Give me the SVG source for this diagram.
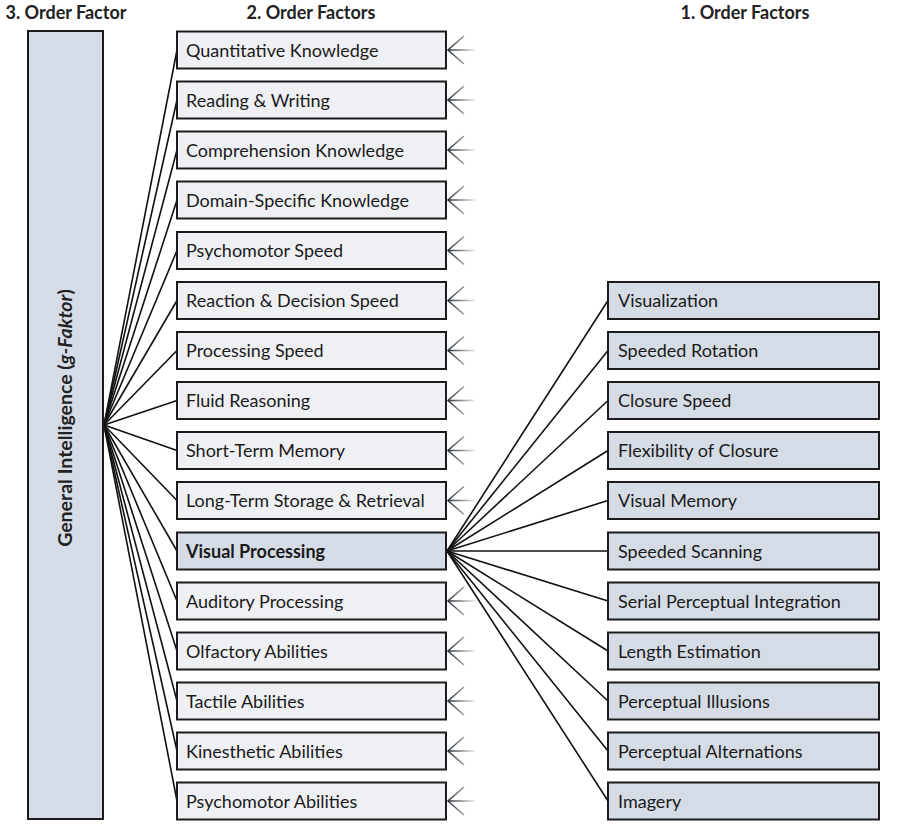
<svg xmlns="http://www.w3.org/2000/svg" xmlns:xlink="http://www.w3.org/1999/xlink" width="907" height="827" viewBox="0 0 907 827">
<style>
.hdr{font-family:"Lato","Liberation Sans",sans-serif;font-weight:bold;font-size:18px;fill:#222;}
.lbl{font-family:"Lato","Liberation Sans",sans-serif;font-size:18px;fill:#1a1a1a;}
.b2{fill:#eff0f4;stroke:#1c1c1c;stroke-width:2;}
.b1{fill:#d6dce5;stroke:#1c1c1c;stroke-width:2;}
.con line{stroke:#111;stroke-width:1.6;}
.arr line,.arr polyline{stroke:url(#fade);stroke-width:1.6;fill:none;}
</style>
<defs>
<linearGradient id="fade" gradientUnits="userSpaceOnUse" x1="0" y1="0" x2="28" y2="0">
<stop offset="0" stop-color="#2a2f38"/>
<stop offset="1" stop-color="#2a2f38" stop-opacity="0.1"/>
</linearGradient>
<g id="arrow" class="arr">
<line x1="1" y1="0" x2="28" y2="0"/>
<polyline points="17,-14 1,0 17,14"/>
</g>
</defs>
<rect width="907" height="827" fill="#fff"/>
<text class="hdr" x="66" y="19" text-anchor="middle">3. Order Factor</text>
<text class="hdr" x="311" y="19" text-anchor="middle">2. Order Factors</text>
<text class="hdr" x="745" y="19" text-anchor="middle">1. Order Factors</text>

<g id="connectors" class="con">
<line x1="104" y1="425" x2="177" y2="50"/>
<line x1="104" y1="425" x2="177" y2="100"/>
<line x1="104" y1="425" x2="177" y2="150"/>
<line x1="104" y1="425" x2="177" y2="200"/>
<line x1="104" y1="425" x2="177" y2="250.5"/>
<line x1="104" y1="425" x2="177" y2="300.5"/>
<line x1="104" y1="425" x2="177" y2="350.5"/>
<line x1="104" y1="425" x2="177" y2="400.5"/>
<line x1="104" y1="425" x2="177" y2="450.5"/>
<line x1="104" y1="425" x2="177" y2="500.5"/>
<line x1="104" y1="425" x2="177" y2="551"/>
<line x1="104" y1="425" x2="177" y2="601"/>
<line x1="104" y1="425" x2="177" y2="651"/>
<line x1="104" y1="425" x2="177" y2="701"/>
<line x1="104" y1="425" x2="177" y2="751"/>
<line x1="104" y1="425" x2="177" y2="801"/>
<line x1="447" y1="551" x2="608" y2="300.5"/>
<line x1="447" y1="551" x2="608" y2="350.5"/>
<line x1="447" y1="551" x2="608" y2="400.5"/>
<line x1="447" y1="551" x2="608" y2="450.5"/>
<line x1="447" y1="551" x2="608" y2="500.5"/>
<line x1="447" y1="551" x2="608" y2="551"/>
<line x1="447" y1="551" x2="608" y2="601"/>
<line x1="447" y1="551" x2="608" y2="651"/>
<line x1="447" y1="551" x2="608" y2="701"/>
<line x1="447" y1="551" x2="608" y2="751"/>
<line x1="447" y1="551" x2="608" y2="801"/>
<use xlink:href="#arrow" x="447" y="50"/>
<use xlink:href="#arrow" x="447" y="100"/>
<use xlink:href="#arrow" x="447" y="150"/>
<use xlink:href="#arrow" x="447" y="200"/>
<use xlink:href="#arrow" x="447" y="250.5"/>
<use xlink:href="#arrow" x="447" y="300.5"/>
<use xlink:href="#arrow" x="447" y="350.5"/>
<use xlink:href="#arrow" x="447" y="400.5"/>
<use xlink:href="#arrow" x="447" y="450.5"/>
<use xlink:href="#arrow" x="447" y="500.5"/>
<use xlink:href="#arrow" x="447" y="601"/>
<use xlink:href="#arrow" x="447" y="651"/>
<use xlink:href="#arrow" x="447" y="701"/>
<use xlink:href="#arrow" x="447" y="751"/>
<use xlink:href="#arrow" x="447" y="801"/>
</g>

<g id="g-factor">
<rect class="b1" x="28" y="31" width="75" height="788"/>
<text class="hdr" transform="translate(72,418) rotate(-90)" text-anchor="middle" style="font-size:19.5px">General Intelligence (<tspan font-style="italic">g-Faktor</tspan>)</text>
</g>

<g id="quantitative-knowledge"><rect class="b2" x="177" y="31.5" width="269" height="37"/><text class="lbl" x="186" y="56.5">Quantitative Knowledge</text></g>
<g id="reading-writing"><rect class="b2" x="177" y="81.5" width="269" height="37"/><text class="lbl" x="186" y="106.5">Reading &amp; Writing</text></g>
<g id="comprehension-knowledge"><rect class="b2" x="177" y="131.5" width="269" height="37"/><text class="lbl" x="186" y="156.5">Comprehension Knowledge</text></g>
<g id="domain-specific-knowledge"><rect class="b2" x="177" y="181.5" width="269" height="37"/><text class="lbl" x="186" y="206.5">Domain-Specific Knowledge</text></g>
<g id="psychomotor-speed"><rect class="b2" x="177" y="232" width="269" height="37"/><text class="lbl" x="186" y="257">Psychomotor Speed</text></g>
<g id="reaction-decision-speed"><rect class="b2" x="177" y="282" width="269" height="37"/><text class="lbl" x="186" y="307">Reaction &amp; Decision Speed</text></g>
<g id="processing-speed"><rect class="b2" x="177" y="332" width="269" height="37"/><text class="lbl" x="186" y="357">Processing Speed</text></g>
<g id="fluid-reasoning"><rect class="b2" x="177" y="382" width="269" height="37"/><text class="lbl" x="186" y="407">Fluid Reasoning</text></g>
<g id="short-term-memory"><rect class="b2" x="177" y="432" width="269" height="37"/><text class="lbl" x="186" y="457">Short-Term Memory</text></g>
<g id="long-term-storage"><rect class="b2" x="177" y="482" width="269" height="37"/><text class="lbl" x="186" y="507">Long-Term Storage &amp; Retrieval</text></g>
<g id="visual-processing"><rect class="b1" x="177" y="532.5" width="269" height="37"/><text class="lbl" x="186" y="557.5" font-weight="bold">Visual Processing</text></g>
<g id="auditory-processing"><rect class="b2" x="177" y="582.5" width="269" height="37"/><text class="lbl" x="186" y="607.5">Auditory Processing</text></g>
<g id="olfactory-abilities"><rect class="b2" x="177" y="632.5" width="269" height="37"/><text class="lbl" x="186" y="657.5">Olfactory Abilities</text></g>
<g id="tactile-abilities"><rect class="b2" x="177" y="682.5" width="269" height="37"/><text class="lbl" x="186" y="707.5">Tactile Abilities</text></g>
<g id="kinesthetic-abilities"><rect class="b2" x="177" y="732.5" width="269" height="37"/><text class="lbl" x="186" y="757.5">Kinesthetic Abilities</text></g>
<g id="psychomotor-abilities"><rect class="b2" x="177" y="782.5" width="269" height="37"/><text class="lbl" x="186" y="807.5">Psychomotor Abilities</text></g>

<g id="visualization"><rect class="b1" x="608" y="282" width="271" height="37"/><text class="lbl" x="618" y="307">Visualization</text></g>
<g id="speeded-rotation"><rect class="b1" x="608" y="332" width="271" height="37"/><text class="lbl" x="618" y="357">Speeded Rotation</text></g>
<g id="closure-speed"><rect class="b1" x="608" y="382" width="271" height="37"/><text class="lbl" x="618" y="407">Closure Speed</text></g>
<g id="flexibility-of-closure"><rect class="b1" x="608" y="432" width="271" height="37"/><text class="lbl" x="618" y="457">Flexibility of Closure</text></g>
<g id="visual-memory"><rect class="b1" x="608" y="482" width="271" height="37"/><text class="lbl" x="618" y="507">Visual Memory</text></g>
<g id="speeded-scanning"><rect class="b1" x="608" y="532.5" width="271" height="37"/><text class="lbl" x="618" y="557.5">Speeded Scanning</text></g>
<g id="serial-perceptual-integration"><rect class="b1" x="608" y="582.5" width="271" height="37"/><text class="lbl" x="618" y="607.5">Serial Perceptual Integration</text></g>
<g id="length-estimation"><rect class="b1" x="608" y="632.5" width="271" height="37"/><text class="lbl" x="618" y="657.5">Length Estimation</text></g>
<g id="perceptual-illusions"><rect class="b1" x="608" y="682.5" width="271" height="37"/><text class="lbl" x="618" y="707.5">Perceptual Illusions</text></g>
<g id="perceptual-alternations"><rect class="b1" x="608" y="732.5" width="271" height="37"/><text class="lbl" x="618" y="757.5">Perceptual Alternations</text></g>
<g id="imagery"><rect class="b1" x="608" y="782.5" width="271" height="37"/><text class="lbl" x="618" y="807.5">Imagery</text></g>
</svg>
